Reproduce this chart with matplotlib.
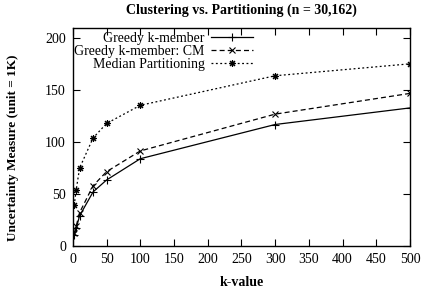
import numpy as np
import matplotlib
matplotlib.use('Agg')
import matplotlib.pyplot as plt

plt.rcParams['font.family'] = ['Liberation Serif', 'DejaVu Serif']

k_values = [2, 5, 10, 30, 50, 100, 300, 500]
greedy = [10, 17, 29, 52, 63.5, 84, 117, 133]
greedy_cm = [12, 19, 32, 58, 71.5, 91.5, 127, 147]
median_part = [39, 54, 75, 104, 118, 135.5, 164, 175.5]

fig = plt.figure(figsize=(4.21, 2.92), dpi=100)
ax = fig.add_axes([0.173, 0.158, 0.801, 0.746])

ax.plot(k_values, greedy, color='black', linestyle='-', linewidth=0.9,
        marker='+', markersize=6, markeredgewidth=0.8, label='Greedy k-member')
ax.plot(k_values, greedy_cm, color='black', linestyle=(0, (4, 2.5)), linewidth=0.9,
        marker='x', markersize=5, markeredgewidth=0.8, label='Greedy k-member: CM')
ax.plot(k_values, median_part, color='black', linestyle=(0, (1.5, 2)), linewidth=0.9,
        marker=(8, 2, 0), markersize=5, markeredgewidth=0.8, label='Median Partitioning')

ax.set_xlim(0, 500)
ax.set_ylim(0, 210)
ax.set_xticks(np.arange(0, 501, 50))
ax.set_yticks([0, 50, 100, 150, 200])
ax.tick_params(direction='in', top=True, right=True, length=5, width=0.8,
               labelsize=10, pad=5)
for s in ax.spines.values():
    s.set_linewidth(1.0)

ax.set_title('Clustering vs. Partitioning (n = 30,162)', fontsize=10,
             fontweight='bold', pad=10)
ax.set_xlabel('k-value', fontsize=10, fontweight='bold', labelpad=7)
ax.set_ylabel('Uncertainty Measure (unit = 1K)', fontsize=9.5,
              fontweight='bold')
ax.yaxis.set_label_coords(-0.16, 0.45)

ax.legend(loc='upper left', bbox_to_anchor=(-0.025, 1.025), frameon=False,
          markerfirst=False, handlelength=3, handletextpad=0.5,
          labelspacing=0.0, fontsize=10, borderaxespad=0.3)

fig.savefig('out.png', dpi=100)
